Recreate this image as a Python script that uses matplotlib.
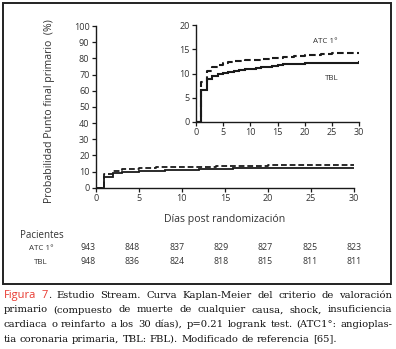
import numpy as np
import matplotlib
matplotlib.use("Agg")
import matplotlib.pyplot as plt
from matplotlib.patches import Rectangle

# Kaplan-Meier step values (% with primary endpoint) by day
dias_tbl = [0, 1, 2, 3, 4, 5, 6, 7, 8, 9, 10, 11, 12, 13, 14, 15, 16, 17, 20, 25, 30]
tbl = [0, 6.5, 8.8, 9.5, 9.8, 10.1, 10.3, 10.5, 10.7, 10.9, 11.0, 11.2, 11.3, 11.4,
       11.5, 11.7, 11.9, 12.0, 12.1, 12.2, 12.3]
dias_atc = [0, 1, 2, 3, 4, 5, 6, 7, 8, 9, 10, 12, 14, 16, 18, 20, 23, 25, 30]
atc = [0, 8.3, 10.6, 11.4, 11.8, 12.1, 12.3, 12.5, 12.6, 12.8, 12.9, 13.1, 13.3,
       13.5, 13.7, 13.9, 14.0, 14.2, 14.3]

# patients at risk
riesgo_dias = [0, 5, 10, 15, 20, 25, 30]
riesgo_atc = [943, 848, 837, 829, 827, 825, 823]
riesgo_tbl = [948, 836, 824, 818, 815, 811, 811]

W, H = 396, 349
SANS = "Open Sans"
TXT = "#333333"
LINE = "#1a1a1a"

fig = plt.figure(figsize=(W / 100, H / 100), dpi=100)
fig.patch.set_facecolor("white")


def px(x, y):
    return x / W, 1 - y / H


def style_axes(ax, fs):
    for s in ["top", "right"]:
        ax.spines[s].set_visible(False)
    for s in ["left", "bottom"]:
        ax.spines[s].set_color(LINE)
        ax.spines[s].set_linewidth(1.0)
    ax.tick_params(direction="out", length=3, width=0.9, color=LINE,
                   labelsize=fs, labelcolor=TXT, pad=1.5)
    for lab in ax.get_xticklabels() + ax.get_yticklabels():
        lab.set_family(SANS)


def draw_curves(ax, lw):
    ax.step(dias_tbl, tbl, where="post", color=LINE, lw=lw, solid_joinstyle="miter")
    ax.step(dias_atc, atc, where="post", color=LINE, lw=lw, ls=(0, (3.2, 1.6)))


# main axes
l, b = px(95.7, 187.7)
r, t = px(354, 26)
ax = fig.add_axes([l, b, r - l, t - b])
draw_curves(ax, 1.3)
ax.set_xlim(0, 30)
ax.set_ylim(0, 100)
ax.set_xticks(range(0, 31, 5))
ax.set_yticks(range(0, 101, 10))
style_axes(ax, 6.5)
ax.set_xlabel("Días post randomización", family=SANS, fontsize=7.6, color=TXT, labelpad=8)

fig.text(*px(50, 111), "Probabilidad Punto final primario  (%)", rotation=90,
         ha="center", va="center", family=SANS, fontsize=7.6, color=TXT)

# inset zoom
l, b = px(195.7, 121.7)
r, t = px(359.3, 25.3)
axi = fig.add_axes([l, b, r - l, t - b])
draw_curves(axi, 1.5)
axi.set_xlim(0, 30)
axi.set_ylim(0, 20)
axi.set_xticks(range(0, 31, 5))
axi.set_yticks(range(0, 21, 5))
style_axes(axi, 6.5)
axi.text(23.8, 16.6, "ATC 1°", ha="center", va="center", family=SANS, fontsize=5.8, color=TXT)
axi.text(25, 9.0, "TBL", ha="center", va="center", family=SANS, fontsize=5.8, color=TXT)

# numbers at risk table
fig.text(*px(42, 236), "Pacientes", ha="center", va="center", family=SANS, fontsize=7, color=TXT)
fig.text(*px(41, 248), "ATC 1°", ha="center", va="center", family=SANS, fontsize=5.8, color=TXT)
fig.text(*px(41, 262), "TBL", ha="center", va="center", family=SANS, fontsize=5.8, color=TXT)
xs = np.linspace(88, 354, len(riesgo_dias))
for x, a, c in zip(xs, riesgo_atc, riesgo_tbl):
    fig.text(*px(x, 248), str(a), ha="center", va="center", family=SANS, fontsize=6.3, color=TXT)
    fig.text(*px(x, 261), str(c), ha="center", va="center", family=SANS, fontsize=6.3, color=TXT)

# frame around the figure panel
x0, y0 = px(3, 284)
x1, y1 = px(391, 3)
fig.patches.append(Rectangle((x0, y0), x1 - x0, y1 - y0, transform=fig.transFigure,
                             fill=False, ec="#222222", lw=1.4, zorder=10))

# caption, fully justified
SERIF = dict(family="DejaVu Serif", fontsize=7.2, color="#111111")
RED = dict(family=SANS, fontsize=8.0, color="#e8382f")
lines = [
    [[("Figura", RED)], [("7", RED), (".", SERIF)], "Estudio", "Stream.", "Curva",
     "Kaplan-Meier", "del", "criterio", "de", "valoración"],
    "primario (compuesto de muerte de cualquier causa, shock, insuficiencia".split(),
    "cardiaca o reinfarto a los 30 días), p=0.21 logrank test. (ATC1°: angioplas-".split(),
    "tia coronaria primaria, TBL: FBL). Modificado de referencia [65].".split(),
]
line_y = [295.5, 310, 324.5, 339]

renderer = fig.canvas.get_renderer()
sp = fig.text(0, 0, " ", **SERIF)
space_w = sp.get_window_extent(renderer).width
sp.remove()

for i, (words, yy) in enumerate(zip(lines, line_y)):
    items = []
    for w in words:
        segs = [(w, SERIF)] if isinstance(w, str) else w
        objs = []
        for s, props in segs:
            tx = fig.text(0, 1 - yy / H, s, va="center", ha="left", **props)
            objs.append((tx, tx.get_window_extent(renderer).width))
        items.append(objs)
    total = sum(wd for objs in items for _, wd in objs)
    last = i == len(lines) - 1
    gap = space_w if last else (389 - total) / (len(items) - 1)
    x = 3.5
    for objs in items:
        for tx, wd in objs:
            tx.set_x(x / W)
            x += wd
        x += gap

fig.savefig("out.png", dpi=100, facecolor="white")
